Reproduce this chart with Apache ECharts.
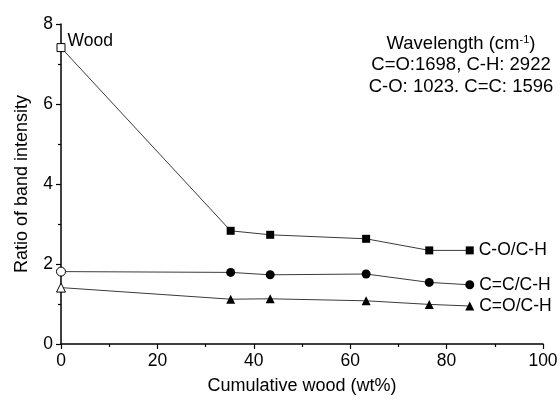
<!DOCTYPE html>
<html>
<head>
<meta charset="utf-8">
<script src="https://cdn.jsdelivr.net/npm/echarts@6/dist/echarts.min.js"></script>
<style>
  html, body { margin: 0; padding: 0; background: #fff; }
  #chart { width: 560px; height: 403px; }
</style>
</head>
<body>
<div id="chart"></div>
<script>
// cumulative wood content (wt%)
var woodPct = [0, 35.2, 43.4, 63.3, 76.4, 84.8];
// band intensity ratios
var coRatio = [7.41, 2.83, 2.73, 2.63, 2.34, 2.34];
var ccRatio = [1.81, 1.79, 1.73, 1.75, 1.54, 1.48];
var cOdRatio = [1.41, 1.12, 1.13, 1.08, 0.99, 0.95];
var seriesNames = ['C-O/C-H', 'C=C/C-H', 'C=O/C-H'];
var xTicks = [0, 20, 40, 60, 80, 100];
var yTicks = [0, 2, 4, 6, 8];

var font = 'Liberation Sans';

function buildData(vals, name, first) {
    return vals.map(function (v, i) {
        var item = { value: [woodPct[i], v] };
        if (i === 0) {
            item.itemStyle = { color: '#fff', borderColor: '#000', borderWidth: 1 };
            if (first) {
                item.label = {
                    show: true, position: 'right', distance: 2, offset: [0, -6],
                    formatter: first, fontSize: 17.5, color: '#000', fontFamily: font
                };
            }
        }
        if (i === vals.length - 1) {
            item.label = {
                show: true, position: 'right', distance: 5,
                formatter: name, fontSize: 17.5, color: '#000', fontFamily: font
            };
        }
        return item;
    });
}

function makeSeries(vals, name, symbol, size, first) {
    return {
        name: name,
        type: 'line',
        symbol: symbol,
        symbolSize: size,
        showAllSymbol: true,
        lineStyle: { color: '#3a3a3a', width: 1 },
        itemStyle: { color: '#000' },
        emphasis: { disabled: true },
        data: buildData(vals, name, first)
    };
}

var axisCommon = {
    axisLine: { show: true, lineStyle: { color: '#000', width: 1.5 } },
    axisTick: { show: true, inside: false, length: 5, lineStyle: { color: '#000', width: 1.2 } },
    minorTick: { show: true, splitNumber: 2, length: 3, lineStyle: { color: '#000', width: 1.2 } },
    splitLine: { show: false },
    axisLabel: { color: '#000', fontSize: 17.5, fontFamily: font },
    nameTextStyle: { color: '#000', fontSize: 18, fontFamily: font }
};

var option = {
    animation: false,
    grid: { left: 61, right: 17, top: 24, bottom: 59, outerBoundsMode: 'none' },
    xAxis: Object.assign({
        type: 'value',
        min: xTicks[0],
        max: xTicks[xTicks.length - 1],
        interval: 20,
        name: 'Cumulative wood (wt%)',
        nameLocation: 'middle',
        nameGap: 33
    }, axisCommon),
    yAxis: Object.assign({
        type: 'value',
        min: yTicks[0],
        max: yTicks[yTicks.length - 1],
        interval: 2,
        name: 'Ratio of band intensity',
        nameLocation: 'middle',
        nameGap: 30
    }, axisCommon),
    graphic: [{
        type: 'text',
        x: 461,
        y: 33,
        style: {
            text: '{a|Wavelength (cm}{s|-1}{a|)}\n{a|C=O:1698, C-H: 2922}\n{a|C-O: 1023. C=C: 1596}',
            align: 'center',
            verticalAlign: 'top',
            fill: '#000',
            rich: {
                a: { fontSize: 18.5, fontFamily: font, lineHeight: 21.5, color: '#000', align: 'center' },
                s: { fontSize: 11, fontFamily: font, lineHeight: 21.5, padding: [0, 0, 8, 0], color: '#000' }
            }
        }
    }],
    series: [
        makeSeries(coRatio, seriesNames[0], 'rect', 8, 'Wood'),
        makeSeries(ccRatio, seriesNames[1], 'circle', 9),
        makeSeries(cOdRatio, seriesNames[2], 'triangle', 9)
    ]
};

var myChart = echarts.init(document.getElementById('chart'));
myChart.setOption(option);
</script>
</body>
</html>
